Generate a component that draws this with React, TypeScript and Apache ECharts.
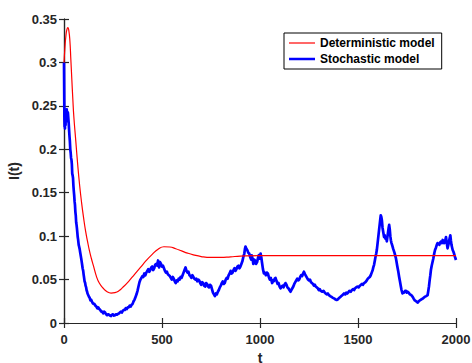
import React, { useEffect, useRef } from "react";
import * as echarts from "echarts";

const xTicks = [0, 500, 1000, 1500, 2000];
const yTicks = [0, 0.05, 0.1, 0.15, 0.2, 0.25, 0.3, 0.35];

const seriesNames = ["Deterministic model", "Stochastic model"];

// Deterministic model: [t, I]
const deterministicPoints = [
  [0, 0.300], [5, 0.318], [10, 0.331], [15, 0.338], [20, 0.340], [25, 0.336], [30, 0.325], [35, 0.303],
  [40, 0.280], [45, 0.258], [50, 0.238], [60, 0.210], [70, 0.182], [80, 0.158], [90, 0.138], [100, 0.121],
  [110, 0.106], [120, 0.094], [130, 0.083], [140, 0.074], [150, 0.066], [165, 0.054], [180, 0.046], [200, 0.040],
  [220, 0.036], [240, 0.0345], [260, 0.035], [280, 0.037], [300, 0.041], [330, 0.048], [360, 0.056], [390, 0.064],
  [420, 0.072], [450, 0.079], [480, 0.085], [510, 0.0878], [540, 0.0875], [570, 0.0855], [600, 0.0830], [630, 0.0805],
  [660, 0.0785], [700, 0.0765], [750, 0.0755], [800, 0.0755], [850, 0.0762], [900, 0.0770], [1000, 0.0776],
  [1200, 0.0776], [1500, 0.0775], [2000, 0.0775],
];

// Stochastic model: [t, I]
const stochasticPoints = [
  [0, 0.300], [1, 0.300], [2, 0.235], [3, 0.226], [4, 0.238], [5, 0.224], [6, 0.245], [7, 0.236], [8, 0.228], [9, 0.240],
  [10, 0.244], [11, 0.233], [12, 0.232], [13, 0.243], [14, 0.246], [15, 0.238], [17, 0.235], [18, 0.243], [20, 0.242],
  [22, 0.236], [24, 0.230], [26, 0.222], [28, 0.215], [30, 0.209], [32, 0.200], [34, 0.196], [36, 0.190], [38, 0.188],
  [40, 0.183], [42, 0.172], [44, 0.170], [46, 0.167], [48, 0.158], [50, 0.152], [52, 0.147], [54, 0.140], [56, 0.136],
  [58, 0.128], [60, 0.124], [62, 0.116], [64, 0.113], [66, 0.109], [68, 0.104], [70, 0.099], [72, 0.096], [75, 0.090],
  [77, 0.088], [80, 0.085], [82, 0.082], [85, 0.078], [88, 0.074], [90, 0.071], [92, 0.068], [95, 0.063], [98, 0.060],
  [100, 0.056], [102, 0.053], [105, 0.048], [108, 0.046], [110, 0.043], [113, 0.041], [115, 0.038], [118, 0.036],
  [120, 0.034], [124, 0.032], [128, 0.030], [131, 0.029], [135, 0.026], [138, 0.027], [142, 0.025], [146, 0.023],
  [150, 0.022], [155, 0.022], [160, 0.020], [165, 0.019], [170, 0.017], [175, 0.018], [180, 0.016], [185, 0.015],
  [190, 0.013], [195, 0.013], [200, 0.011], [205, 0.013], [210, 0.012], [215, 0.010], [220, 0.009], [225, 0.010],
  [230, 0.0095], [235, 0.0085], [240, 0.008], [245, 0.0095], [250, 0.010], [255, 0.0085], [260, 0.009], [265, 0.010],
  [270, 0.0095], [275, 0.0105], [280, 0.011], [285, 0.012], [290, 0.013], [295, 0.012], [300, 0.014], [305, 0.015],
  [310, 0.015], [315, 0.017], [320, 0.016], [325, 0.018], [330, 0.018], [335, 0.020], [340, 0.019], [345, 0.021],
  [350, 0.022], [355, 0.025], [360, 0.027], [365, 0.030], [370, 0.033], [375, 0.037], [380, 0.042], [385, 0.047],
  [390, 0.050], [395, 0.052], [400, 0.054], [405, 0.053], [410, 0.057], [415, 0.055], [420, 0.058], [425, 0.060],
  [430, 0.062], [435, 0.059], [440, 0.061], [445, 0.064], [450, 0.065], [455, 0.061], [460, 0.063], [465, 0.067],
  [470, 0.068], [475, 0.066], [480, 0.072], [485, 0.064], [490, 0.070], [495, 0.068], [500, 0.065], [505, 0.066],
  [510, 0.063], [515, 0.060], [520, 0.058], [525, 0.059], [530, 0.056], [535, 0.055], [540, 0.054], [545, 0.052],
  [550, 0.050], [555, 0.053], [560, 0.051], [565, 0.048], [570, 0.046], [575, 0.049], [580, 0.048], [585, 0.051],
  [590, 0.050], [595, 0.053], [600, 0.052], [605, 0.055], [610, 0.058], [615, 0.061], [620, 0.064], [625, 0.060],
  [630, 0.058], [635, 0.059], [640, 0.055], [645, 0.054], [650, 0.052], [655, 0.055], [660, 0.053], [665, 0.051],
  [670, 0.050], [675, 0.051], [680, 0.048], [685, 0.050], [690, 0.049], [695, 0.046], [700, 0.044], [705, 0.047],
  [710, 0.046], [715, 0.043], [720, 0.042], [725, 0.046], [730, 0.045], [735, 0.042], [740, 0.041], [745, 0.044],
  [750, 0.043], [755, 0.039], [760, 0.035], [765, 0.033], [770, 0.031], [775, 0.034], [780, 0.033], [785, 0.036],
  [790, 0.038], [795, 0.041], [800, 0.043], [805, 0.046], [810, 0.048], [815, 0.045], [820, 0.046], [825, 0.050],
  [830, 0.052], [835, 0.051], [840, 0.055], [845, 0.057], [850, 0.060], [855, 0.057], [860, 0.058], [865, 0.061],
  [870, 0.063], [875, 0.060], [880, 0.062], [885, 0.065], [890, 0.066], [895, 0.063], [900, 0.065], [905, 0.068],
  [910, 0.071], [915, 0.076], [920, 0.080], [923, 0.085], [926, 0.088], [930, 0.086], [935, 0.084], [940, 0.081],
  [945, 0.080], [950, 0.076], [955, 0.073], [958, 0.078], [962, 0.074], [966, 0.068], [970, 0.073], [975, 0.072],
  [980, 0.068], [985, 0.070], [990, 0.075], [994, 0.078], [998, 0.074], [1003, 0.080], [1007, 0.075], [1010, 0.070],
  [1015, 0.062], [1020, 0.057], [1025, 0.058], [1030, 0.055], [1035, 0.058], [1040, 0.057], [1045, 0.053], [1050, 0.050],
  [1055, 0.052], [1062, 0.046], [1066, 0.049], [1070, 0.048], [1075, 0.051], [1079, 0.052], [1085, 0.048], [1090, 0.045],
  [1095, 0.046], [1100, 0.042], [1105, 0.040], [1110, 0.042], [1115, 0.043], [1120, 0.041], [1125, 0.044], [1130, 0.046],
  [1135, 0.044], [1140, 0.041], [1145, 0.040], [1150, 0.038], [1156, 0.036], [1160, 0.038], [1165, 0.040], [1170, 0.042],
  [1175, 0.045], [1180, 0.047], [1185, 0.049], [1190, 0.051], [1195, 0.049], [1200, 0.050], [1205, 0.053], [1210, 0.055],
  [1215, 0.054], [1220, 0.057], [1224, 0.059], [1230, 0.056], [1235, 0.054], [1240, 0.052], [1245, 0.050], [1250, 0.049],
  [1255, 0.050], [1260, 0.047], [1265, 0.046], [1270, 0.045], [1275, 0.043], [1280, 0.044], [1284, 0.042], [1290, 0.041],
  [1295, 0.040], [1300, 0.038], [1305, 0.039], [1310, 0.037], [1318, 0.036], [1324, 0.037], [1330, 0.035], [1335, 0.034],
  [1340, 0.033], [1346, 0.034], [1352, 0.032], [1358, 0.031], [1365, 0.030], [1372, 0.029], [1380, 0.028], [1386, 0.027],
  [1391, 0.0265], [1396, 0.027], [1400, 0.028], [1405, 0.029], [1410, 0.030], [1415, 0.031], [1420, 0.032], [1425, 0.033],
  [1429, 0.034], [1435, 0.033], [1440, 0.035], [1445, 0.034], [1450, 0.035], [1456, 0.037], [1463, 0.036], [1469, 0.038],
  [1475, 0.039], [1480, 0.038], [1485, 0.040], [1491, 0.041], [1497, 0.042], [1503, 0.041], [1510, 0.043], [1515, 0.044],
  [1520, 0.045], [1525, 0.044], [1531, 0.046], [1538, 0.047], [1545, 0.049], [1550, 0.051], [1555, 0.052], [1560, 0.053],
  [1565, 0.055], [1570, 0.058], [1575, 0.061], [1578, 0.064], [1582, 0.067], [1586, 0.072], [1590, 0.077], [1593, 0.080],
  [1596, 0.084], [1600, 0.092], [1604, 0.100], [1607, 0.106], [1610, 0.112], [1613, 0.118], [1616, 0.124], [1619, 0.122],
  [1622, 0.118], [1625, 0.110], [1627, 0.107], [1630, 0.103], [1633, 0.099], [1636, 0.101], [1640, 0.097], [1644, 0.098],
  [1647, 0.094], [1650, 0.099], [1653, 0.104], [1656, 0.109], [1659, 0.113], [1662, 0.108], [1665, 0.100], [1668, 0.095],
  [1671, 0.092], [1675, 0.089], [1680, 0.085], [1686, 0.081], [1693, 0.075], [1697, 0.070], [1700, 0.066], [1705, 0.060],
  [1710, 0.053], [1714, 0.048], [1718, 0.043], [1722, 0.038], [1727, 0.034], [1731, 0.035], [1735, 0.035], [1740, 0.037],
  [1745, 0.037], [1749, 0.035], [1753, 0.036], [1758, 0.035], [1765, 0.033], [1772, 0.032], [1779, 0.030], [1784, 0.028],
  [1790, 0.026], [1797, 0.025], [1804, 0.0234], [1810, 0.025], [1815, 0.026], [1822, 0.027], [1830, 0.028], [1835, 0.029],
  [1840, 0.030], [1848, 0.031], [1855, 0.032], [1858, 0.036], [1862, 0.042], [1866, 0.050], [1869, 0.055], [1872, 0.061],
  [1876, 0.066], [1880, 0.070], [1884, 0.074], [1889, 0.080], [1893, 0.084], [1898, 0.087], [1902, 0.090], [1906, 0.092],
  [1910, 0.091], [1915, 0.090], [1920, 0.093], [1925, 0.094], [1929, 0.092], [1932, 0.0956], [1936, 0.094], [1940, 0.092],
  [1945, 0.095], [1949, 0.099], [1953, 0.092], [1957, 0.086], [1960, 0.089], [1963, 0.092], [1967, 0.097], [1971, 0.101],
  [1974, 0.095], [1977, 0.090], [1980, 0.087], [1983, 0.084], [1987, 0.082], [1990, 0.080], [1995, 0.076], [2000, 0.0725],
];

const FONT = "'Liberation Sans', Arial, Helvetica, sans-serif";
const AX = "#262626";
const RED = "#ff0000";
const BLUE = "#0000ff";

export default function App() {
  const ref = useRef<HTMLDivElement>(null);
  useEffect(() => {
    if (!ref.current) return;
    const chart = echarts.init(ref.current, undefined, { renderer: "svg" });
    const xMin = xTicks[0], xMax = xTicks[xTicks.length - 1], xInt = xTicks[1] - xTicks[0];
    const yMin = yTicks[0], yMax = yTicks[yTicks.length - 1], yInt = 0.05;
    const axisCommon = {
      axisLine: { show: true, lineStyle: { color: AX, width: 1.2 } },
      axisTick: { show: true, inside: true, length: 5, lineStyle: { color: AX, width: 1.2 } },
      splitLine: { show: false },
    };
    chart.setOption({
      animation: false,
      backgroundColor: "#fff",
      grid: { left: 64, right: 16, top: 19, bottom: 40, containLabel: false, outerBoundsMode: "none" },
      legend: {
        orient: "vertical",
        left: 284,
        top: 33,
        padding: [4, 7, 4, 5],
        itemWidth: 26,
        itemHeight: 12,
        itemGap: 4,
        borderColor: "#000",
        borderWidth: 1,
        backgroundColor: "#fff",
        textStyle: { fontFamily: FONT, fontWeight: "bold", fontSize: 12, color: "#000" },
        data: [
          { name: seriesNames[0], icon: "path://M0,0M26,12M0,5.4H26V6.6H0Z", itemStyle: { color: RED } },
          { name: seriesNames[1], icon: "path://M0,0M26,12M0,4.75H26V7.25H0Z", itemStyle: { color: BLUE } },
        ],
      },
      xAxis: [
        {
          type: "value", min: xMin, max: xMax, interval: xInt, position: "bottom",
          ...axisCommon,
          axisLabel: { margin: 10, fontFamily: FONT, fontWeight: "bold", fontSize: 13, color: AX, formatter: (v: number) => String(v) },
          name: "t", nameLocation: "middle", nameGap: 25,
          nameTextStyle: { fontFamily: FONT, fontWeight: "bold", fontSize: 14, lineHeight: 14, color: AX },
        },
        {
          type: "value", min: xMin, max: xMax, interval: xInt, position: "top",
          ...axisCommon, axisLabel: { show: false },
        },
      ],
      yAxis: [
        {
          type: "value", min: yMin, max: yMax, interval: yInt, position: "left",
          ...axisCommon,
          axisLabel: { margin: 7, fontFamily: FONT, fontWeight: "bold", fontSize: 13, color: AX },
          name: "I(t)", nameLocation: "middle", nameGap: 43, nameRotate: 90,
          nameTextStyle: { fontFamily: FONT, fontWeight: "bold", fontSize: 14, color: AX },
        },
        {
          type: "value", min: yMin, max: yMax, interval: yInt, position: "right",
          ...axisCommon, axisLabel: { show: false },
        },
      ],
      series: [
        {
          name: seriesNames[0], type: "line", data: deterministicPoints, smooth: true,
          symbol: "none", lineStyle: { color: RED, width: 1.2 }, itemStyle: { color: RED },
          z: 3,
        },
        {
          name: seriesNames[1], type: "line", data: stochasticPoints, smooth: false,
          symbol: "none", lineStyle: { color: BLUE, width: 2.7, join: "round" }, itemStyle: { color: BLUE },
          z: 2,
        },
      ],
    });
    return () => chart.dispose();
  }, []);
  return (
    <div
      ref={ref}
      style={{ position: "fixed", left: 0, top: 0, width: 472, height: 363 }}
    />
  );
}
